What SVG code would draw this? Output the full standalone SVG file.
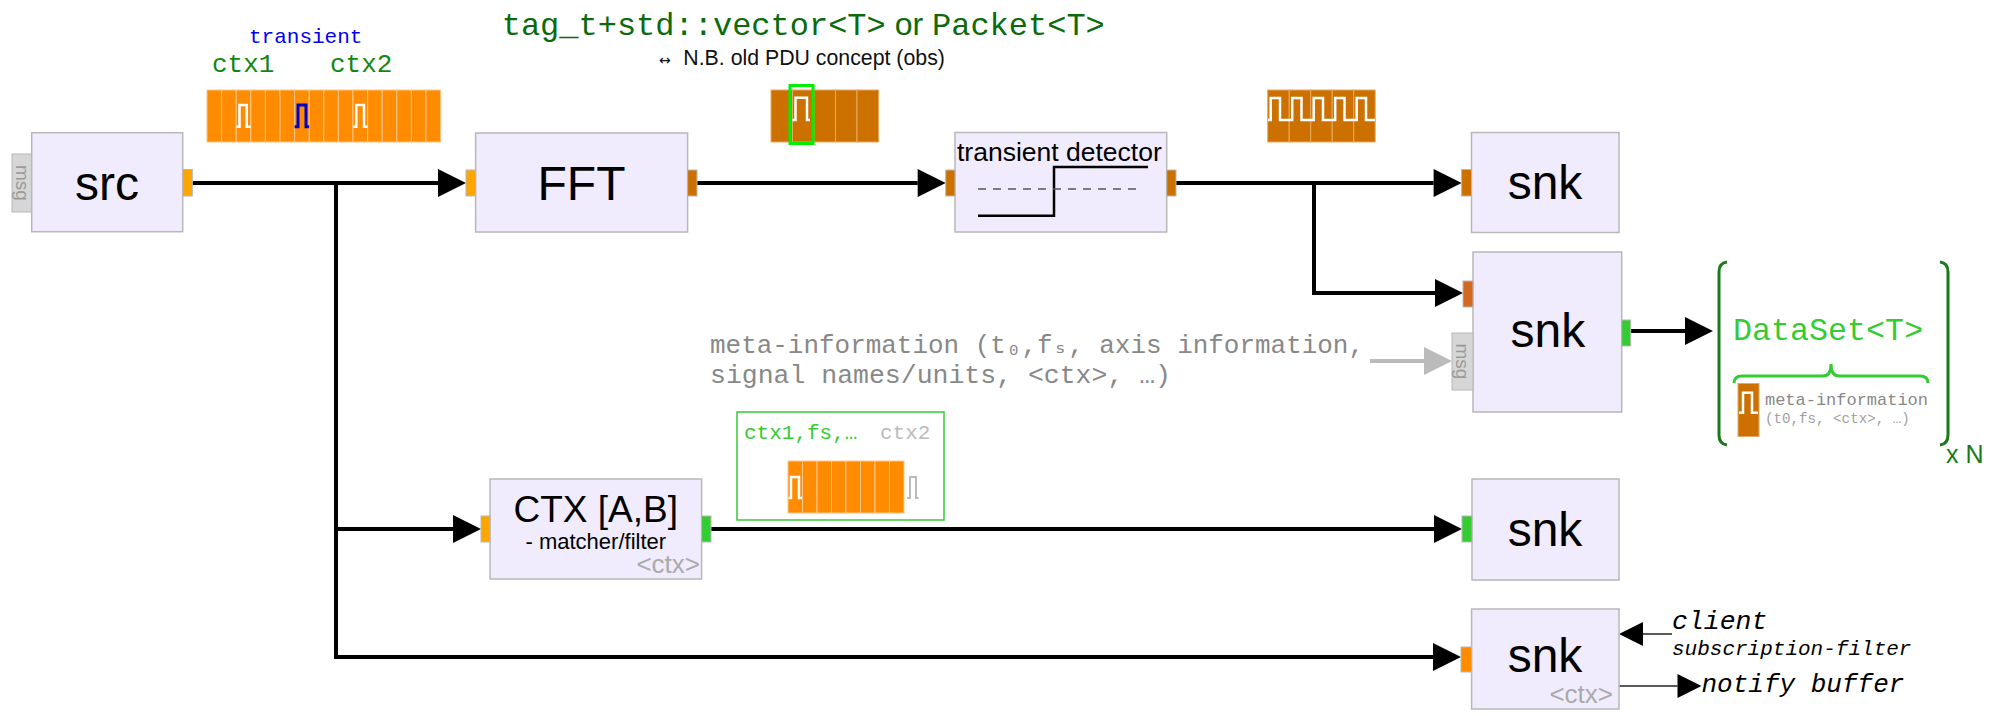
<svg xmlns="http://www.w3.org/2000/svg" width="1991" height="716" viewBox="0 0 1991 716">
<style>
.node{fill:#f0ecfd;stroke:#b8b8b8;stroke-width:1.5}
.port{stroke:#b8b8b8;stroke-width:1}
.po{fill:#ffa500}.pd{fill:#cc7000}.pc{fill:#d2691e}.pg{fill:#33cc33}.pb{fill:#ff8c00}
.tab{fill:#d6d6d6;stroke:#b8b8b8;stroke-width:1}
.lbl{font-family:"Liberation Sans",Arial,sans-serif;font-size:48px;fill:#000;text-anchor:middle}
.sans{font-family:"Liberation Sans",Arial,sans-serif}
.mono{font-family:"Liberation Mono","DejaVu Sans Mono",monospace}
.msg{font-family:"Liberation Sans",Arial,sans-serif;font-size:19px;fill:#9a9a9a;text-anchor:middle}
.ctxg{font-family:"Liberation Sans",Arial,sans-serif;font-size:26px;fill:#aaaaaa;text-anchor:end}
.wire{fill:none;stroke:#000;stroke-width:4}
.celld{fill:#cc7000;stroke:#e8a860;stroke-width:1}
.cello{fill:#ff8c00;stroke:#ffc58a;stroke-width:1}
.pulse{fill:none;stroke:#fff;stroke-width:2.5}
</style>
<defs>
<marker id="ah" markerUnits="userSpaceOnUse" markerWidth="28" markerHeight="28" refX="0" refY="14" orient="auto" overflow="visible">
<path d="M0,0 L28,14 L0,28 Z" fill="#000"/>
</marker>
<marker id="ahg" markerUnits="userSpaceOnUse" markerWidth="28" markerHeight="28" refX="0" refY="14" orient="auto" overflow="visible">
<path d="M0,0 L28,14 L0,28 Z" fill="#bbbbbb"/>
</marker>
<marker id="ahs" markerUnits="userSpaceOnUse" markerWidth="24" markerHeight="24" refX="0" refY="12" orient="auto" overflow="visible">
<path d="M0,0 L24,12 L0,24 Z" fill="#000"/>
</marker>
</defs>
<rect width="1991" height="716" fill="#fff"/>

<!-- header texts -->
<g id="header">
<text x="501.7" y="35" font-size="32" fill="#0b6b0b"><tspan class="mono">tag_t+std::vector&lt;T&gt;</tspan><tspan class="sans"> or </tspan><tspan class="mono">Packet&lt;T&gt;</tspan></text>
<text y="65" fill="#111"><tspan x="659" font-size="14" font-family="'DejaVu Sans',sans-serif">↔</tspan><tspan class="sans" x="683.3" font-size="21.3">N.B. old PDU concept (obs)</tspan></text>
</g>

<!-- src buffer with contexts -->
<g id="src-buffer">
<text class="mono" x="249" y="43" font-size="21" fill="#0000ee">transient</text>
<text class="mono" x="212" y="72" font-size="26" fill="#118811">ctx1</text>
<text class="mono" x="330" y="72" font-size="26" fill="#118811">ctx2</text>
<g class="cello">
<rect x="207" y="90" width="14.6" height="52"/><rect x="221.6" y="90" width="14.6" height="52"/><rect x="236.2" y="90" width="14.6" height="52"/><rect x="250.8" y="90" width="14.6" height="52"/>
<rect x="265.4" y="90" width="14.6" height="52"/><rect x="280" y="90" width="14.6" height="52"/><rect x="294.6" y="90" width="14.6" height="52"/><rect x="309.2" y="90" width="14.6" height="52"/>
<rect x="323.8" y="90" width="14.6" height="52"/><rect x="338.4" y="90" width="14.6" height="52"/><rect x="353" y="90" width="14.6" height="52"/><rect x="367.6" y="90" width="14.6" height="52"/>
<rect x="382.2" y="90" width="14.6" height="52"/><rect x="396.8" y="90" width="14.6" height="52"/><rect x="411.4" y="90" width="14.6" height="52"/><rect x="426" y="90" width="14.6" height="52"/>
</g>
<path class="pulse" d="M236.2,126.7 H239.5 V105 H246.7 V126.7 H250.8"/>
<path d="M294.6,126.7 H298 V105 H306 V126.7 H309.2" fill="none" stroke="#0000cc" stroke-width="3"/>
<path class="pulse" d="M353,126.7 H356.3 V105 H364 V126.7 H367.6"/>
</g>

<!-- FFT output buffer -->
<g id="fft-buffer">
<rect class="celld" x="771" y="90" width="21.5" height="52"/><rect class="celld" x="792.5" y="90" width="21.5" height="52"/><rect class="celld" x="814" y="90" width="21.5" height="52"/><rect class="celld" x="835.5" y="90" width="21.5" height="52"/><rect class="celld" x="857" y="90" width="21.5" height="52"/>
<path class="pulse" d="M792.5,120 H795.5 V97.7 H807 V120 H810"/>
<rect x="790" y="85.5" width="23" height="58" fill="none" stroke="#00ee00" stroke-width="3"/>
</g>

<!-- transient detector output buffer -->
<g id="td-buffer">
<rect class="celld" x="1267.7" y="90" width="21.5" height="52"/><rect class="celld" x="1289.2" y="90" width="21.5" height="52"/><rect class="celld" x="1310.7" y="90" width="21.5" height="52"/><rect class="celld" x="1332.2" y="90" width="21.5" height="52"/><rect class="celld" x="1353.7" y="90" width="21.5" height="52"/>
<path class="pulse" d="M1268,120 H1270.7 V98 H1280 V120 H1292.2 V98 H1301.5 V120 H1313.7 V98 H1323 V120 H1335.2 V98 H1344.5 V120 H1356.7 V98 H1366 V120 H1375"/>
</g>

<!-- connectors -->
<g id="connectors">
<path class="wire" d="M192.3,183 H438" marker-end="url(#ah)"/>
<path class="wire" d="M336,183 V657 H1433" marker-end="url(#ah)"/>
<path class="wire" d="M336,529 H453" marker-end="url(#ah)"/>
<path class="wire" d="M697,183 H917.7" marker-end="url(#ah)"/>
<path class="wire" d="M1176,183 H1433.6" marker-end="url(#ah)"/>
<path class="wire" d="M1314,183 V293 H1435" marker-end="url(#ah)"/>
<path class="wire" d="M711,529 H1434" marker-end="url(#ah)"/>
<path class="wire" d="M1630.7,331 H1685" marker-end="url(#ah)"/>
<path d="M1370,361 H1424" fill="none" stroke="#bbbbbb" stroke-width="4" marker-end="url(#ahg)"/>
<path d="M1672,634 H1643" fill="none" stroke="#222" stroke-width="1.5" marker-end="url(#ahs)"/>
<path d="M1619,686 H1677.5" fill="none" stroke="#222" stroke-width="1.5" marker-end="url(#ahs)"/>
</g>

<!-- nodes -->
<g id="src">
<rect class="tab" x="12" y="154" width="19.7" height="58"/>
<text class="msg" transform="translate(22,183) rotate(90)" y="6.5">msg</text>
<rect class="node" x="31.7" y="132.7" width="151" height="99"/>
<rect class="port po" x="182.7" y="169.5" width="9.6" height="26.5"/>
<text class="lbl" x="107" y="200">src</text>
</g>

<g id="fft">
<rect class="node" x="475.6" y="133" width="212" height="99"/>
<rect class="port po" x="466" y="170" width="9.6" height="26"/>
<rect class="port pd" x="687.6" y="170" width="9.4" height="26"/>
<text class="lbl" x="581.5" y="200">FFT</text>
</g>

<g id="transient-detector">
<rect class="node" x="955" y="132.5" width="211.7" height="99.5"/>
<rect class="port pd" x="945.7" y="170" width="9.3" height="26"/>
<rect class="port pd" x="1166.7" y="170" width="9.3" height="26"/>
<text class="sans" x="957" y="160.7" font-size="26.5">transient detector</text>
<path d="M978,215.7 H1054 V167 H1148" fill="none" stroke="#000" stroke-width="2.5"/>
<path d="M978,189 H1143" fill="none" stroke="#555" stroke-width="1.5" stroke-dasharray="8,7"/>
</g>

<g id="snk1">
<rect class="node" x="1471.5" y="132.5" width="147.5" height="100"/>
<rect class="port pd" x="1461.6" y="169.5" width="9.9" height="26.5"/>
<text class="lbl" x="1545" y="199">snk</text>
</g>

<g id="snk2">
<rect class="node" x="1473" y="252" width="148.7" height="160"/>
<rect class="port pc" x="1463" y="281" width="10" height="26"/>
<rect class="tab" x="1452" y="333" width="21" height="57"/>
<text class="msg" transform="translate(1462.5,361.5) rotate(90)" y="6.5">msg</text>
<rect class="port pg" x="1621.7" y="320" width="9" height="26"/>
<text class="lbl" x="1547.8" y="347">snk</text>
</g>

<g id="meta-info">
<text class="mono" font-size="25.5" fill="#888"><tspan x="710" y="353" textLength="654" lengthAdjust="spacingAndGlyphs">meta-information (t₀,fₛ, axis information,</tspan><tspan x="710" y="383" textLength="461" lengthAdjust="spacingAndGlyphs">signal names/units, &lt;ctx&gt;, …)</tspan></text>
</g>

<g id="dataset">
<path d="M1727,262 Q1719,263 1719,272 V435 Q1719,444 1727,445" fill="none" stroke="#1a7a1a" stroke-width="3"/>
<path d="M1940,262 Q1948,263 1948,272 V435 Q1948,444 1940,445" fill="none" stroke="#1a7a1a" stroke-width="3"/>
<text class="mono" x="1733" y="340" font-size="31.7" fill="#33cc33">DataSet&lt;T&gt;</text>
<path d="M1734,383 Q1734,376 1742,376 H1823 Q1831,376 1831,364 Q1831,376 1839,376 H1920 Q1928,376 1928,383" fill="none" stroke="#33cc33" stroke-width="3"/>
<rect x="1738" y="383.5" width="21" height="53" fill="#cc7000" stroke="#e8a860" stroke-width="1"/>
<path class="pulse" d="M1739,412.7 H1743 V392.7 H1752 V412.7 H1758"/>
<text class="mono" x="1765" y="405" font-size="17" fill="#888" textLength="163" lengthAdjust="spacingAndGlyphs">meta-information</text>
<text class="mono" x="1765" y="423" font-size="14.2" fill="#a0a0a0">(t0,fs, &lt;ctx&gt;, …)</text>
<text class="sans" x="1946" y="463" font-size="25" fill="#1a7a1a">x N</text>
</g>

<g id="ctx-filter">
<rect class="node" x="490" y="479" width="211.6" height="100"/>
<rect class="port po" x="481" y="516" width="9" height="26"/>
<rect class="port pg" x="701.6" y="516" width="9.4" height="26"/>
<text class="sans" x="595.8" y="522" font-size="37" text-anchor="middle">CTX [A,B]</text>
<text class="sans" x="595.8" y="549" font-size="22" text-anchor="middle">- matcher/filter</text>
<text class="ctxg" x="700" y="573">&lt;ctx&gt;</text>
</g>

<g id="ctx-buffer">
<rect x="737" y="412" width="207" height="108" fill="none" stroke="#33cc33" stroke-width="1.5"/>
<text class="mono" x="744" y="439" font-size="21" fill="#33cc33">ctx1,fs,…</text>
<text class="mono" x="880" y="439" font-size="21" fill="#bbbbbb">ctx2</text>
<rect class="cello" x="788" y="461" width="14.5" height="52"/><rect class="cello" x="802.5" y="461" width="14.5" height="52"/><rect class="cello" x="817" y="461" width="14.5" height="52"/><rect class="cello" x="831.5" y="461" width="14.5" height="52"/>
<rect class="cello" x="846" y="461" width="14.5" height="52"/><rect class="cello" x="860.5" y="461" width="14.5" height="52"/><rect class="cello" x="875" y="461" width="14.5" height="52"/><rect class="cello" x="889.5" y="461" width="14.5" height="52"/>
<path class="pulse" stroke-width="2" d="M788.5,498 H791 V477 H799 V498 H802"/>
<path d="M907,498 H910 V477 H916 V498 H918.6" fill="none" stroke="#bbbbbb" stroke-width="2"/>
</g>

<g id="snk3">
<rect class="node" x="1472" y="479" width="147" height="101"/>
<rect class="port pg" x="1462" y="516" width="10" height="26"/>
<text class="lbl" x="1545" y="546">snk</text>
</g>

<g id="snk4">
<rect class="node" x="1471.6" y="609" width="147.4" height="100"/>
<rect class="port pb" x="1461" y="647" width="10.6" height="25"/>
<text class="lbl" x="1545" y="672">snk</text>
<text class="ctxg" x="1613" y="703">&lt;ctx&gt;</text>
<text class="mono" x="1672" y="629" font-size="26.5" font-style="italic">client</text>
<text class="mono" x="1672" y="655" font-size="21" font-style="italic">subscription-filter</text>
<text class="mono" x="1701.5" y="692" font-size="26" font-style="italic">notify buffer</text>
</g>
</svg>
